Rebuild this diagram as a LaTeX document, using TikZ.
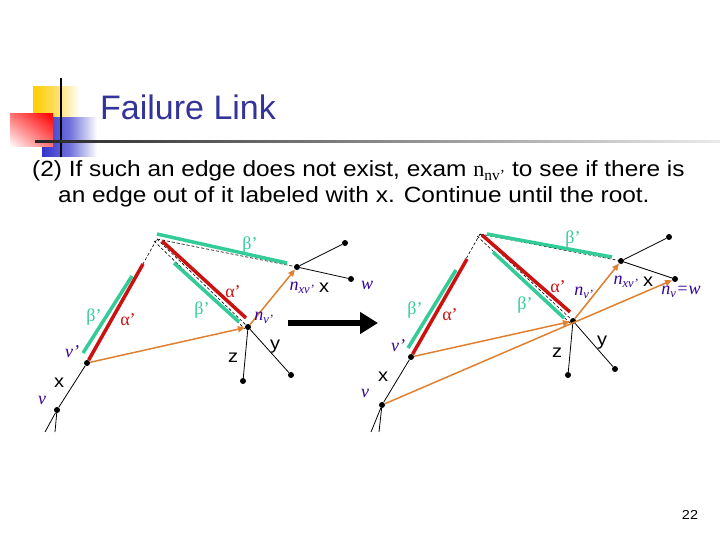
\documentclass[tikz,border=0pt]{standalone}
\usepackage{fontspec}
\setmainfont{Liberation Sans}
\newfontfamily\serif{Liberation Serif}
\newfontfamily\bodyfont[FakeStretch=1.11]{Liberation Sans}
\usetikzlibrary{arrows.meta,shadings}

\definecolor{tealc}{RGB}{51,204,153}
\definecolor{redc}{RGB}{204,17,17}
\definecolor{orangec}{RGB}{224,128,48}
\definecolor{purplec}{RGB}{51,0,153}
\definecolor{titlec}{RGB}{51,51,153}
\definecolor{logoblue}{RGB}{51,51,204}
\definecolor{logoyellow}{RGB}{255,204,0}

\begin{document}
\begin{tikzpicture}[x=1pt,y=-1pt]
        \tikzset{
            dot/.style = {shape=circle, fill=black, inner sep=0pt, minimum size=6pt},
            tree/.style = {black, line width=0.8pt},
            hidden/.style = {black, line width=0.6pt, dash pattern=on 3pt off 2pt},
            alphabar/.style = {redc, line width=3.5pt},
            betabar/.style = {tealc, line width=3.5pt},
            fail/.style = {orangec, line width=1.5pt, -{Triangle[length=7pt,width=6pt]}},
            vlbl/.style = {purplec, inner sep=0pt, font=\serif\itshape\fontsize{18}{18}\selectfont},
            alpha/.style = {redc, inner sep=0pt, font=\serif\fontsize{18}{18}\selectfont},
            beta/.style = {tealc, inner sep=0pt, font=\serif\fontsize{18}{18}\selectfont},
            letter/.style = {inner sep=0pt, font=\bodyfont\fontsize{18}{18}\selectfont}
        }
        \useasboundingbox (0,0) rectangle (720,540);

        % title block
        \shade[left color=logoyellow, right color=white, middle color=logoyellow!60] (33,87) rectangle (80,118);
        \shade[left color=logoblue, right color=white, middle color=logoblue!70] (42,118) rectangle (97,157);
        \shade[upper right=red, lower left=white, upper left=red!55, lower right=red!55] (10,114) rectangle (53,147);
        \draw[line width=2pt] (61,78) -- (61,157);
        \shade[left color=black!85, right color=black!8] (35,140.5) rectangle (720,143);
        \node[anchor=base west, titlec, inner sep=0pt, font=\fontsize{34}{34}\selectfont] (title) at (100,120) {Failure Link};

        \node[anchor=base west, inner sep=0pt, font=\bodyfont\fontsize{22}{22}\selectfont] (line1) at (32,177)
            {(2) If such an edge does not exist, exam {\serif n\textsubscript{nv’}} to see if there is};
        \node[anchor=base west, inner sep=0pt, font=\bodyfont\fontsize{22}{22}\selectfont] (line2) at (58,203)
            {an edge out of it labeled with x. Continue until the root.};

        % left tree
        \node[dot] (v) at (57,410) {};
        \node[dot] (vp) at (87,363) {};
        \node[dot] (nv) at (248,327) {};
        \node[dot] (nxv) at (297,267) {};
        \node[dot] (c) at (345,243) {};
        \node[dot] (w) at (351,279) {};
        \node[dot] (z) at (243,381) {};
        \node[dot] (y) at (291,375) {};
        \coordinate (r) at (157,239);
        \coordinate (t1) at (45,432);
        \coordinate (t2) at (55,432);

        \coordinate (a1) at (143,264);
        \coordinate (a2s) at (162,241);
        \coordinate (a2e) at (246,318);
        \coordinate (b1s) at (83,353);
        \coordinate (b1e) at (132,276);
        \coordinate (b2s) at (157,234);
        \coordinate (b2e) at (287,263);
        \coordinate (b3s) at (174,263);
        \coordinate (b3e) at (239,322);

        \draw (v) edge[tree] (vp);
        \draw (v) edge[tree] (t1);
        \draw (v) edge[tree] (t2);
        \draw (vp) edge[hidden] (r);
        \draw (r) edge[hidden] (nxv);
        \draw (r) edge[hidden] (nv);
        \draw ([shift={(-3,2)}]r) edge[hidden] ([shift={(-3,2)}]nv.center);
        \draw (nxv) edge[tree] (c);
        \draw (nxv) edge[tree] (w);
        \draw (nv) edge[tree] (z);
        \draw (nv) edge[tree] (y);

        \draw (vp) edge[alphabar] (a1);
        \draw (a2s) edge[alphabar] (a2e);
        \draw (b1s) edge[betabar] (b1e);
        \draw (b2s) edge[betabar] (b2e);
        \draw (b3s) edge[betabar] (b3e);

        \draw (vp) edge[fail] (nv);
        \draw (nv) edge[fail] (nxv);

        \node[beta] (lb1) at (94,317) {β’};
        \node[alpha] (la1) at (128,320) {α’};
        \node[beta] (lb2) at (250,245) {β’};
        \node[alpha] (la2) at (233,292) {α’};
        \node[beta] (lb3) at (202,310) {β’};
        \node[vlbl] (lvp) at (72,352) {v’};
        \node[vlbl] (lv) at (42,400) {v};
        \node[letter] (lx1) at (59,383) {x};
        \node[vlbl] (lnv) at (264,318) {n\textsubscript{v’}};
        \node[vlbl] (lnxv) at (302,288) {n\textsubscript{xv’}};
        \node[letter] (lx2) at (324,288) {x};
        \node[vlbl] (lw) at (367,285) {w};
        \node[letter] (lz) at (233,358) {z};
        \node[letter] (ly) at (275,347) {y};

        % big arrow
        \coordinate (ms) at (288,323);
        \coordinate (me) at (378,323);
        \draw[line width=6pt, -{Triangle[length=18pt,width=21pt]}] (ms) -- (me);

        % right tree
        \node[dot] (v2) at (382,405) {};
        \node[dot] (vp2) at (411,357) {};
        \node[dot] (nv2) at (573,321) {};
        \node[dot] (nxv2) at (621,261) {};
        \node[dot] (c2) at (669,237) {};
        \node[dot] (w2) at (675,279) {};
        \node[dot] (z2) at (568,375) {};
        \node[dot] (y2) at (615,369) {};
        \coordinate (r2) at (480,234);
        \coordinate (t3) at (371,432);
        \coordinate (t4) at (379,432);

        \coordinate (a3) at (467,259);
        \coordinate (a4s) at (482,235);
        \coordinate (a4e) at (570,312);
        \coordinate (b4s) at (408,348);
        \coordinate (b4e) at (456,270);
        \coordinate (b5s) at (487,234);
        \coordinate (b5e) at (612,257);
        \coordinate (b6s) at (493,252);
        \coordinate (b6e) at (564,318);

        \draw (v2) edge[tree] (vp2);
        \draw (v2) edge[tree] (t3);
        \draw (v2) edge[tree] (t4);
        \draw (vp2) edge[hidden] (r2);
        \draw (r2) edge[hidden] (nxv2);
        \draw (r2) edge[hidden] (nv2);
        \draw ([shift={(-3,2)}]r2) edge[hidden] ([shift={(-3,2)}]nv2.center);
        \draw (nxv2) edge[tree] (c2);
        \draw (nxv2) edge[tree] (w2);
        \draw (nv2) edge[tree] (z2);
        \draw (nv2) edge[tree] (y2);

        \draw (vp2) edge[alphabar] (a3);
        \draw (a4s) edge[alphabar] (a4e);
        \draw (b4s) edge[betabar] (b4e);
        \draw (b5s) edge[betabar] (b5e);
        \draw (b6s) edge[betabar] (b6e);

        \draw (vp2) edge[fail] (nv2);
        \draw (nv2) edge[fail] (nxv2);
        \draw (v2) edge[fail] (w2);

        \node[beta] (lb4) at (415,310) {β’};
        \node[alpha] (la3) at (450,315) {α’};
        \node[beta] (lb5) at (573,239) {β’};
        \node[alpha] (la4) at (558,287) {α’};
        \node[beta] (lb6) at (525,305) {β’};
        \node[vlbl] (lvp2) at (398,346) {v’};
        \node[vlbl] (lv2) at (365,393) {v};
        \node[letter] (lx3) at (383,377) {x};
        \node[vlbl] (lnv2) at (584,293) {n\textsubscript{v’}};
        \node[vlbl] (lnxv2) at (626,282) {n\textsubscript{xv’}};
        \node[letter] (lx4) at (648,282) {x};
        \node[vlbl] (lw2) at (681,292) {n\textsubscript{v}=w};
        \node[letter] (lz2) at (557,353) {z};
        \node[letter] (ly2) at (602,343) {y};

        \node[inner sep=0pt, font=\bodyfont\fontsize{13}{13}\selectfont] (page) at (690,515) {22};

    \end{tikzpicture}
\end{document}
